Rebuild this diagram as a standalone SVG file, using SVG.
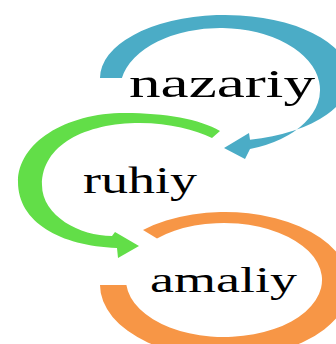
<svg xmlns="http://www.w3.org/2000/svg" width="336" height="344" viewBox="0 0 336 344">
<style>
.lbl{font-family:"Liberation Serif","Times New Roman",serif;fill:#000;}
.blue{fill:#4BACC6;}
.green{fill:#62DE48;}
.orange{fill:#F79646;}
</style>
<rect width="336" height="344" fill="#fff"/>
<g id="connectors">
<path id="arc-nazariy-ruhiy" class="blue" d="M100,78 A125,63 0 1 1 250,139.7 L249,133 L224,148 L245,159 L250,149.1 A100,62 0 1 0 121.9,78 Z"/>
<path id="arc-ruhiy-amaliy" class="green" d="M220,131 C200,119 165,113 125,113 C65,113 18,143 18,182 C18,222 60,246 117,248 L118,258 L139,246 L115,232 L112,236 C80,236 42,216 42,185 C42,145 85,123 140,123 C170,123 195,130 212,138 Z"/>
<path id="arc-amaliy" class="orange" d="M143,229.9 A125,73 0 1 1 100,285 L126.4,285 A98,57 0 1 0 157,238.4 Z"/>
</g>
<g id="node-nazariy">
<text class="lbl" x="129" y="97" font-size="40" textLength="186" lengthAdjust="spacingAndGlyphs">nazariy</text>
</g>
<g id="node-ruhiy">
<text class="lbl" x="83" y="193" font-size="37" textLength="114" lengthAdjust="spacingAndGlyphs">ruhiy</text>
</g>
<g id="node-amaliy">
<text class="lbl" x="150" y="292" font-size="35" textLength="147" lengthAdjust="spacingAndGlyphs">amaliy</text>
</g>
</svg>
